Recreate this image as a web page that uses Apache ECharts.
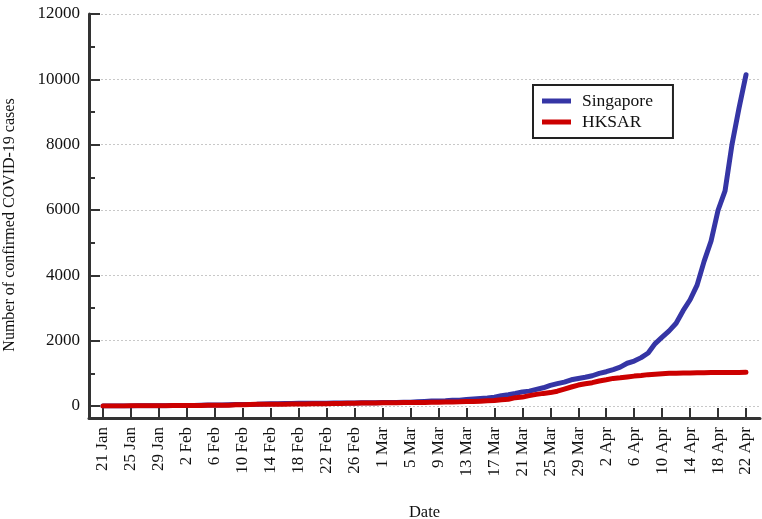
<!DOCTYPE html>
<html>
<head>
<meta charset="utf-8">
<script src="https://cdn.jsdelivr.net/npm/echarts@6/dist/echarts.min.js"></script>
<style>html,body{margin:0;padding:0;background:#fff}#c{width:762px;height:519px}</style>
</head>
<body>
<div id="c"></div>
<script>
// Day index 0 = 21 Jan 2020 ... 92 = 22 Apr 2020
const tickLabels = ['21 Jan','25 Jan','29 Jan','2 Feb','6 Feb','10 Feb','14 Feb','18 Feb','22 Feb','26 Feb','1 Mar','5 Mar','9 Mar','13 Mar','17 Mar','21 Mar','25 Mar','29 Mar','2 Apr','6 Apr','10 Apr','14 Apr','18 Apr','22 Apr'];
const tickStep = 4;

const singapore = [
  0,0,1,3,3,4,5,7,7,10,13,
  16,18,18,24,28,30,33,40,43,45,47,50,58,67,72,75,77,81,84,84,85,86,89,89,91,93,96,98,102,
  106,108,110,112,117,130,138,150,150,160,178,178,200,212,226,243,266,313,345,385,432,455,509,558,631,683,732,802,844,879,926,
  1000,1049,1114,1189,1309,1375,1481,1623,1910,2108,2299,2532,2918,3252,3699,4427,5050,5992,6588,8014,9125,10141
];
const hksar = [
  0,0,2,2,5,8,8,8,10,10,12,
  13,14,15,17,21,24,25,26,36,42,49,50,53,56,56,57,60,62,65,68,69,69,74,79,84,85,92,94,95,
  100,100,101,104,105,107,108,114,115,120,126,129,137,141,148,157,167,192,208,256,273,317,356,386,410,453,518,582,641,682,714,
  765,802,845,862,890,915,935,960,973,989,1000,1004,1009,1012,1017,1019,1022,1024,1025,1026,1029,1030
];

const font = '"Liberation Serif","Times New Roman",serif';
const tickVals = tickLabels.map((_, i) => i * tickStep);
const labelOf = {};
tickVals.forEach((v, i) => { labelOf[v] = tickLabels[i]; });

const chart = echarts.init(document.getElementById('c'), null, {renderer: 'canvas'});
chart.setOption({
  backgroundColor: '#fff',
  animation: false,
  textStyle: {fontFamily: font},
  grid: {left: 89, right: 2, top: 14, bottom: 113, containLabel: false, outerBoundsMode: 'none'},
  legend: {
    orient: 'vertical',
    left: 533, top: 85,
    padding: [7, 20, 7, 9],
    itemGap: 3,
    itemWidth: 29, itemHeight: 5,
    icon: 'rect',
    borderColor: '#222', borderWidth: 2,
    textStyle: {fontFamily: font, fontSize: 17.5, color: '#111', padding: [0, 0, 0, 6]},
    data: ['Singapore', 'HKSAR']
  },
  xAxis: {
    type: 'value',
    min: -2, max: 94,
    offset: 12,
    name: 'Date', nameLocation: 'middle', nameGap: 86, nameMoveOverlap: false,
    nameTextStyle: {fontFamily: font, fontSize: 16.5, color: '#111'},
    axisLine: {show: true, onZero: false, lineStyle: {color: '#333', width: 3}},
    axisTick: {show: true, inside: true, length: 10, customValues: tickVals, lineStyle: {color: '#333', width: 2}},
    axisLabel: {
      customValues: tickVals, rotate: 90, margin: 9,
      fontFamily: font, fontSize: 17, color: '#111',
      formatter: v => labelOf[v] || ''
    },
    splitLine: {show: false}
  },
  yAxis: {
    type: 'value',
    min: 0, max: 12000, interval: 2000,
    name: 'Number of confirmed COVID-19 cases', nameLocation: 'middle', nameGap: 71, nameMoveOverlap: false,
    nameTextStyle: {fontFamily: font, fontSize: 16, color: '#111', padding: [0, 30, 0, 0]},
    axisLine: {show: true, onZero: false, lineStyle: {color: '#333', width: 3}},
    axisTick: {show: true, inside: true, length: 11, lineStyle: {color: '#333', width: 2}},
    minorTick: {show: true, splitNumber: 2, length: 6, lineStyle: {color: '#333', width: 2}},
    axisLabel: {margin: 9, fontFamily: font, fontSize: 17, color: '#111', formatter: v => String(v)},
    splitLine: {show: true, lineStyle: {color: '#c8c8c8', width: 1, type: [2, 2]}}
  },
  graphic: [{
    type: 'line', silent: true, z: 10,
    shape: {x1: 89.5, y1: 405, x2: 89.5, y2: 419},
    style: {stroke: '#333', lineWidth: 3}
  }],
  series: [
    {
      name: 'Singapore', type: 'line', showSymbol: false, smooth: false,
      color: '#3535a5',
      lineStyle: {width: 5, color: '#3535a5', cap: 'round', join: 'round'},
      data: singapore.map((v, i) => [i, v])
    },
    {
      name: 'HKSAR', type: 'line', showSymbol: false, smooth: false,
      color: '#cc0000',
      lineStyle: {width: 5, color: '#cc0000', cap: 'round', join: 'round'},
      data: hksar.map((v, i) => [i, v])
    }
  ]
});
</script>
</body>
</html>
